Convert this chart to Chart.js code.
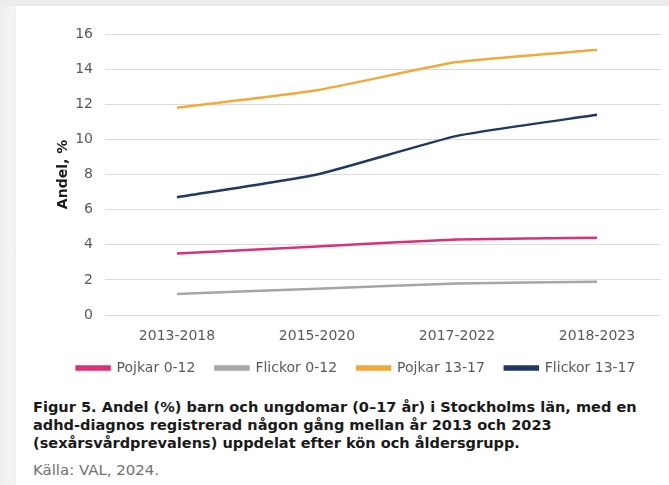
<!DOCTYPE html>
<html>
<head>
<meta charset="utf-8">
<script src="https://cdn.jsdelivr.net/npm/chart.js@4"></script>
<style>
  html, body { margin: 0; padding: 0; }
  body { width: 669px; height: 485px; position: relative; overflow: hidden;
         background: linear-gradient(to right, #ededed 0px, #f3f3f3 10px, #f7f7f7 15px); }
  #panel { position: absolute; left: 16px; top: 6px; width: 653px; height: 479px; background: #ffffff;
           box-shadow: -2px 0 4px rgba(0,0,0,0.04); }
  #topstrip { position: absolute; left: 0; top: 0; width: 669px; height: 6px; background: #ececec; }
  #wrap { position: absolute; left: 15px; top: 6px; width: 654px; height: 379px; }
  #caption { position: absolute; left: 33px; top: 398px; width: 636px; font-family: "DejaVu Sans", Verdana, sans-serif;
             font-weight: bold; font-size: 15px; line-height: 18px; color: #1a1a1a; white-space: nowrap; }
  #source { position: absolute; left: 33px; top: 461px; font-family: "DejaVu Sans", Verdana, sans-serif;
            font-size: 14px; line-height: 18px; color: #707070; white-space: nowrap; }
</style>
</head>
<body>
<div id="topstrip"></div>
<div id="panel"></div>
<div id="wrap"><canvas id="c" width="654" height="379"></canvas></div>
<div id="caption"><span id="l1">Figur 5. Andel (%) barn och ungdomar (0–17 år) i Stockholms län, med en</span><br>adhd-diagnos registrerad någon gång mellan år 2013 och 2023<br>(sexårsvårdprevalens) uppdelat efter kön och åldersgrupp.</div>
<div id="source"><span id="src">Källa: VAL, 2024.</span></div>
<script>
const categories = ["2013-2018", "2015-2020", "2017-2022", "2018-2023"];
const seriesNames = ["Pojkar 0-12", "Flickor 0-12", "Pojkar 13-17", "Flickor 13-17"];
const pojkar0_12 = [3.5, 3.9, 4.3, 4.4];
const flickor0_12 = [1.2, 1.5, 1.8, 1.9];
const pojkar13_17 = [11.8, 12.8, 14.4, 15.1];
const flickor13_17 = [6.7, 8.0, 10.2, 11.4];
const yTicks = [0, 2, 4, 6, 8, 10, 12, 14, 16];
const colors = ["#d9307a", "#a6a6a6", "#f2a93b", "#1f3864"];

// fit caption text widths to the reference
(function fit() {
  const l1 = document.getElementById("l1");
  const cap = document.getElementById("caption");
  const w = l1.getBoundingClientRect().width;
  cap.style.fontSize = (15 * 604 / w).toFixed(2) + "px";
  const s = document.getElementById("src");
  const src = document.getElementById("source");
  const w2 = s.getBoundingClientRect().width;
  src.style.fontSize = (14 * 126 / w2).toFixed(2) + "px";
})();

const values = [pojkar0_12, flickor0_12, pojkar13_17, flickor13_17];
const FONT = "'DejaVu Sans', Verdana, sans-serif";

new Chart(document.getElementById("c"), {
  type: "line",
  data: {
    datasets: values.map((v, i) => ({
      label: seriesNames[i],
      data: v.map((y, k) => ({ x: k, y: y })),
      borderColor: colors[i],
      backgroundColor: colors[i],
      borderWidth: 2.5,
      pointRadius: 0,
      tension: 0.15,
      fill: false
    }))
  },
  options: {
    responsive: false,
    animation: false,
    layout: { padding: { left: 36, right: 8, top: 28, bottom: 0 } },
    plugins: {
      tooltip: { enabled: false },
      legend: {
        position: "bottom",
        labels: {
          boxWidth: 33,
          boxHeight: 3,
          padding: 20,
          color: "#595959",
          font: { family: FONT, size: 14 }
        }
      }
    },
    scales: {
      x: {
        type: "linear",
        min: -0.514,
        max: 3.457,
        afterBuildTicks: (s) => { s.ticks = categories.map((c, i) => ({ value: i })); },
        afterFit: (s) => { s.height = 26; },
        grid: { display: false, drawTicks: false },
        border: { display: false },
        ticks: { color: "#595959", padding: 13, maxRotation: 0, autoSkip: false,
                 callback: (v) => categories[v], font: { family: FONT, size: 14 } }
      },
      y: {
        min: 0, max: 16,
        afterBuildTicks: (s) => { s.ticks = yTicks.map(v => ({ value: v })); },
        afterFit: (s) => { s.width = 54; },
        grid: { color: "#dcdcdc", lineWidth: 1, drawTicks: false },
        border: { display: false },
        ticks: { color: "#595959", padding: 12, font: { family: FONT, size: 14 } },
        title: { display: true, text: "Andel, %", color: "#1a1a1a", padding: 4,
                 font: { family: FONT, size: 14, weight: "bold" } }
      }
    }
  }
});
</script>
</body>
</html>
